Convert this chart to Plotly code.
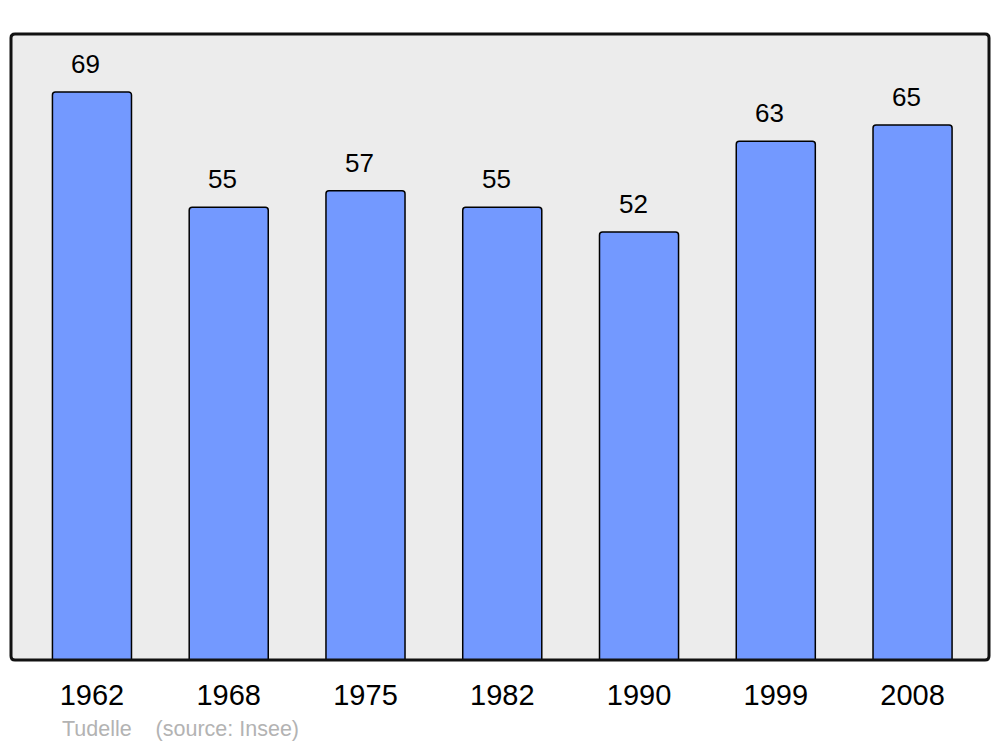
import plotly.graph_objects as go

years = ["1962", "1968", "1975", "1982", "1990", "1999", "2008"]
population = [69, 55, 57, 55, 52, 63, 65]
footer = "Tudelle    (source: Insee)"

xpos = list(range(len(years)))

fig = go.Figure()
fig.add_trace(go.Bar(
    x=xpos, y=population, width=0.578,
    marker=dict(color="#7399ff", line=dict(color="#000000", width=1.5), cornerradius=3),
    hoverinfo="skip",
))

for xi, v in zip(xpos, population):
    fig.add_annotation(x=xi, y=v, text=str(v), showarrow=False, yanchor="bottom",
                       yshift=11, xshift=-6, font=dict(family="Liberation Sans, Arial", size=26, color="#000"))

fig.add_annotation(xref="paper", yref="paper", x=(60 - 11) / 978, y=-(729 - 660) / 626,
                   xanchor="left", yanchor="middle", showarrow=False, text=footer,
                   font=dict(family="Liberation Sans, Arial", size=21.5, color="#b3b3b3"))

# frame with slightly rounded corners (paper coordinates)
W, H = 978.0, 626.0
rx, ry = 4 / W, 4 / H
frame = (f"M {rx},0 L {1-rx},0 Q 1,0 1,{ry} L 1,{1-ry} Q 1,1 {1-rx},1 "
         f"L {rx},1 Q 0,1 0,{1-ry} L 0,{ry} Q 0,0 {rx},0 Z")
fig.add_shape(type="path", xref="paper", yref="paper", path=frame,
              line=dict(color="#111111", width=3), layer="above")

fig.update_layout(
    width=1000, height=747,
    margin=dict(l=11, r=11, t=34, b=87),
    paper_bgcolor="#ffffff", plot_bgcolor="#ececec",
    showlegend=False,
    xaxis=dict(range=[-0.592, 6.559], tickvals=xpos, ticktext=years, showgrid=False,
               zeroline=False, ticks="outside", ticklen=9, tickcolor="rgba(0,0,0,0)",
               tickfont=dict(family="Liberation Sans, Arial", size=29, color="#000")),
    yaxis=dict(range=[0, 76.04], showgrid=False, zeroline=False, showticklabels=False),
)

fig.write_html("out.html", config={"displayModeBar": False},
               post_script="document.body.style.margin='0';")
